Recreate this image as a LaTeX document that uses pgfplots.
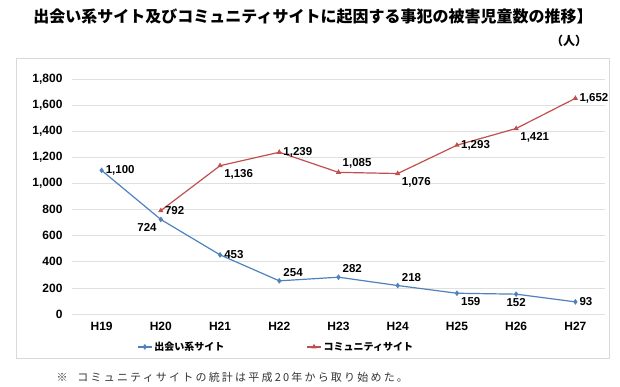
\documentclass[border=0pt]{standalone}
\usepackage{fontspec}
\setmainfont{Liberation Sans}
\newfontfamily\jp{Noto Sans CJK JP}
\newfontfamily\jpfoot{Noto Sans CJK JP}[LetterSpace=20]
\usepackage{pgfplots}
\pgfplotsset{compat=1.18}
\definecolor{sblue}{HTML}{4F81BD}
\definecolor{sred}{HTML}{C0504D}
\pgfplotsset{lbl/.style={draw=none, mark=none, forget plot, nodes near coords, point meta=y,
  every node near coord/.append style={font=\bfseries\fontsize{11.5}{13}\selectfont, text=black, anchor=#1, inner sep=4pt,
    /pgf/number format/assume math mode=true, /pgf/number format/1000 sep={,}}}}
\begin{document}
\begin{tikzpicture}[x=1pt,y=1pt]
\path[use as bounding box] (0,0) rectangle (620,386);
\draw[black!15] (16,28) rectangle (609,328);
\node[font={\jp\bfseries\fontsize{16}{18}\selectfont}] at (313,369) {出会い系サイト及びコミュニティサイトに起因する事犯の被害児童数の推移】};
\node[font={\jp\bfseries\fontsize{12}{13}\selectfont}] at (569,345) {（人）};
\node[anchor=west,font={\jpfoot\fontsize{11}{12}\selectfont},text=black!80] at (53,9) {※\hspace{0.9em}コミュニティサイトの統計は平成20年から取り始めた。};
\begin{axis}[
  at={(72pt,72pt)}, anchor=south west,
  scale only axis, width=533pt, height=235pt,
  xmin=-0.5, xmax=8.5, ymin=0, ymax=1800,
  axis line style={draw=none},
  xtick={0,...,8},
  xticklabels={H19,H20,H21,H22,H23,H24,H25,H26,H27},
  ytick={0,200,...,1800},
  major tick length=0pt,
  ymajorgrids, grid style={black!12, line width=0.6pt},
  tick label style={font=\bfseries\fontsize{12}{13}\selectfont},
  /pgf/number format/assume math mode=true,
  /pgf/number format/1000 sep={,},
  yticklabel style={xshift=-6pt},
  xticklabel style={yshift=-5pt},
  clip=false,
  legend columns=2,
  legend style={draw=none, at={(0.383,-0.14)}, anchor=center,
    font={\jp\bfseries\fontsize{10}{12}\selectfont},
    /tikz/every even column/.append style={column sep=80pt}},
  legend image code/.code={\draw[#1,mark=none] (0pt,0pt) -- (14pt,0pt); \path[#1] plot coordinates {(7pt,0pt)};},
]
\addplot[sblue, line width=1.2pt, mark=diamond*, mark size=1.9pt, mark options={solid,fill=sblue}]
  coordinates {(0,1100) (1,724) (2,453) (3,254) (4,282) (5,218) (6,159) (7,152) (8,93)};
\addlegendentry{出会い系サイト}
\addplot[sred, line width=1.2pt, mark=triangle*, mark size=1.9pt, mark options={solid,fill=sred}]
  coordinates {(1,792) (2,1136) (3,1239) (4,1085) (5,1076) (6,1293) (7,1421) (8,1652)};
\addlegendentry{コミュニティサイト}
% labels
\addplot[lbl=west] coordinates {(0,1100) (2,453) (8,93) (1,792) (3,1239) (6,1293) (8,1652)};
\addplot[lbl=north east] coordinates {(1,724)};
\addplot[lbl=south west] coordinates {(3,254) (4,282) (5,218) (4,1085)};
\addplot[lbl=north west] coordinates {(6,159) (2,1136) (5,1076) (7,1421)};
\addplot[lbl=north] coordinates {(7,152)};
\end{axis}
\end{tikzpicture}
\end{document}
